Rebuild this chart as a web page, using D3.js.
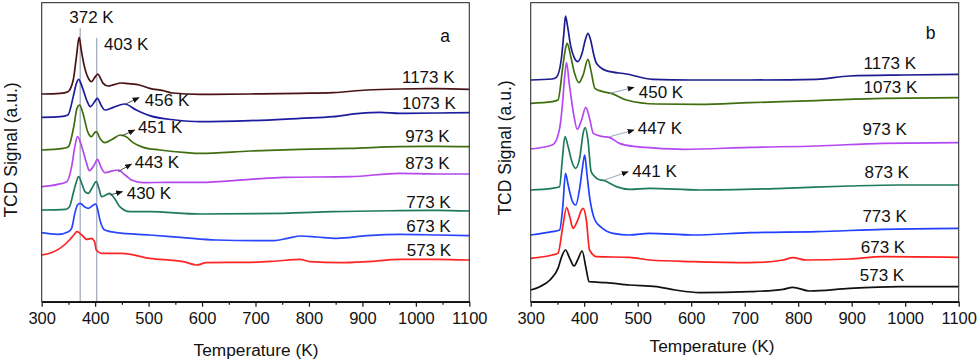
<!DOCTYPE html>
<html>
<head>
<meta charset="utf-8">
<script src="https://cdn.jsdelivr.net/npm/d3@7"></script>
<style>
  body { margin: 0; background: #fff; }
  text { font-family: "Liberation Sans", Arial, sans-serif; fill: #111; }
</style>
</head>
<body>
<script>
// TPD curves, [temperature K, signal a.u.]
var tempLabels = ["1173 K", "1073 K", "973 K", "873 K", "773 K", "673 K", "573 K"];
var xTicks = [300, 400, 500, 600, 700, 800, 900, 1000, 1100];
var xMinor = [350, 450, 550, 650, 750, 850, 950, 1050];

// panel a
var a1173 = [[300,623],[335,625],[349,630],[359,665],[365,735],[370,793],[374,755],[380,705],[388,668],[393,660],[399,672],[405,683],[410,670],[415,655],[424,647],[435,651],[448,656],[462,654],[483,650],[502,640],[527,633],[545,626],[596,622],[690,623],[783,625],[845,627],[908,635],[970,638],[1040,639],[1100,637]];
var a1073 = [[300,553],[335,555],[349,560],[359,615],[364,650],[369,667],[376,643],[384,605],[391,585],[399,600],[404,610],[412,587],[418,575],[434,583],[455,593],[477,575],[502,558],[550,545],[596,540],[690,543],[783,550],[845,555],[895,565],[933,568],[970,565],[1040,566],[1100,567]];
var a973 = [[300,455],[340,460],[350,465],[360,525],[366,580],[371,590],[378,560],[386,510],[393,495],[398,505],[402,510],[410,487],[418,477],[432,487],[447,500],[458,495],[471,477],[490,463],[521,455],[571,447],[596,445],[690,452],[783,457],[877,460],[970,465],[1040,466],[1100,465]];
var a873 = [[300,345],[330,352],[347,360],[356,405],[362,465],[367,495],[375,465],[384,415],[389,393],[400,415],[404,427],[412,400],[418,387],[434,393],[443,395],[456,380],[468,365],[490,357],[534,358],[596,358],[690,367],[752,373],[877,375],[970,385],[1040,383],[1100,383]];
var a773 = [[300,275],[345,277],[352,285],[359,325],[364,355],[369,375],[376,350],[381,330],[387,325],[394,340],[402,360],[407,340],[412,315],[420,320],[427,325],[436,310],[446,285],[465,270],[502,270],[596,263],[752,265],[845,270],[970,273],[1040,274],[1100,272]];
var a673 = [[300,207],[330,202],[350,210],[356,220],[362,265],[367,290],[372,295],[380,285],[387,280],[395,288],[401,293],[405,275],[409,245],[418,215],[440,207],[502,200],[560,193],[627,185],[700,183],[735,183],[760,190],[785,197],[815,194],[852,190],[908,198],[970,202],[1040,200],[1100,198]];
var a573 = [[300,140],[320,148],[334,160],[352,185],[360,200],[366,210],[375,200],[384,187],[393,190],[399,180],[402,155],[412,145],[450,145],[502,130],[565,120],[590,110],[608,117],[650,118],[690,118],[740,122],[783,127],[802,120],[858,117],[908,120],[970,127],[1040,127],[1100,125]];

// panel b
var b1173 = [[300,665],[340,668],[348,673],[357,725],[362,805],[365,857],[369,825],[375,765],[382,730],[388,720],[396,745],[402,785],[407,805],[412,785],[418,740],[423,715],[441,693],[479,683],[528,667],[600,665],[709,665],[834,667],[896,677],[1000,680],[1100,682]];
var b1073 = [[300,595],[340,600],[351,605],[360,705],[364,750],[368,775],[375,735],[382,685],[390,657],[398,680],[407,727],[413,690],[420,640],[435,630],[451,625],[479,605],[535,593],[616,592],[709,597],[834,603],[958,610],[1100,612]];
var b973 = [[300,458],[340,470],[348,485],[356,540],[360,605],[364,685],[367,717],[372,655],[380,565],[387,517],[395,545],[403,583],[410,550],[417,505],[432,496],[448,492],[466,475],[498,465],[522,462],[585,457],[709,463],[834,467],[958,475],[1100,477]];
var b873 = [[300,335],[340,340],[354,345],[359,425],[364,495],[370,465],[377,420],[384,400],[392,435],[398,505],[402,522],[407,485],[413,390],[420,375],[426,367],[438,363],[460,345],[485,337],[522,340],[616,335],[772,340],[896,347],[990,350],[1100,350]];
var b773 = [[300,200],[340,210],[354,215],[360,285],[365,385],[370,350],[377,305],[384,290],[392,345],[397,405],[401,440],[405,385],[410,315],[420,245],[432,223],[454,205],[485,200],[522,205],[603,200],[709,207],[834,210],[958,217],[1100,220]];
var b673 = [[300,130],[340,140],[351,145],[360,225],[367,282],[373,255],[379,220],[388,245],[395,275],[398,280],[404,245],[410,155],[423,135],[485,133],[522,125],[603,120],[709,117],[772,125],[790,132],[815,125],[896,128],[958,135],[1100,133]];
var b573 = [[300,35],[317,45],[336,65],[351,100],[358,135],[365,155],[373,130],[381,107],[389,130],[396,152],[404,95],[409,60],[441,57],[485,50],[535,45],[570,35],[616,27],[709,30],[772,37],[790,43],[821,32],[896,40],[990,45],[1100,45]];

var colorsA = ["#4a1212", "#1c1c9e", "#3f6e0e", "#b448ec", "#1d7a5c", "#2a46ff", "#ff2626"];
var colorsB = ["#1c1c8e", "#3f6e0e", "#b448f2", "#1d7a5c", "#2240ff", "#ff2020", "#111111"];

// curve label anchors [T, signal]
var labelPosA = [[974,673],[974,597],[980,497],[980,415],[982,300],[982,228],[983,155]];
var labelPosB = [[922,715],[922,643],[920,517],[924,390],[920,257],[917,165],[915,80]];

// peak arrows: [label, fromT, fromS, toT, toS, textT, textS]
var arrowsA = [["456 K",457,593,482,612,493,605],["451 K",449,497,474,515,480,524],["443 K",443,390,468,413,474,419],["430 K",427,320,451,330,459,325]];
var arrowsB = [["450 K",448,625,493,643,502,630],["447 K",448,495,493,515,500,521],["441 K",438,365,482,390,490,393]];

var refLines = [[372, 821], [403, 791]];

var width = 980, height = 362;
var plotTop = 2.67, plotBottom = 301.67;

var svg = d3.select("body").append("svg")
    .attr("width", width)
    .attr("height", height);

var defs = svg.append("defs");
defs.append("marker")
    .attr("id", "head")
    .attr("viewBox", "0 0 10 10")
    .attr("refX", 9).attr("refY", 5)
    .attr("markerWidth", 7).attr("markerHeight", 7)
    .attr("markerUnits", "userSpaceOnUse")
    .attr("orient", "auto")
  .append("path")
    .attr("d", "M0,1 L10,5 L0,9 Z")
    .attr("fill", "#111");

function drawPanel(p) {
  var x = d3.scaleLinear().domain([300, 1100]).range([p.x0, p.x1]);
  var y = d3.scaleLinear().domain([0, 897]).range([plotBottom, plotTop]);
  var g = svg.append("g");

  var line = d3.line()
      .x(function(d) { return x(d[0]); })
      .y(function(d) { return y(d[1]); })
      .curve(d3.curveMonotoneX);

  // reference lines (panel a only)
  if (p.refs) {
    g.selectAll(".ref").data(p.refs).enter().append("line")
        .attr("x1", function(d) { return x(d[0]); })
        .attr("x2", function(d) { return x(d[0]); })
        .attr("y1", function(d) { return y(d[1]); })
        .attr("y2", plotBottom)
        .attr("stroke", "#9aa6b6")
        .attr("stroke-width", 1.2);
  }

  g.selectAll(".curve").data(p.series).enter().append("path")
      .attr("d", line)
      .attr("fill", "none")
      .attr("stroke", function(d, i) { return p.colors[i]; })
      .attr("stroke-width", 1.7)
      .attr("stroke-linejoin", "round");

  g.selectAll(".lbl").data(p.labelPos).enter().append("text")
      .attr("x", function(d) { return x(d[0]); })
      .attr("y", function(d) { return y(d[1]); })
      .attr("dy", "0.36em")
      .style("font-size", "17px")
      .text(function(d, i) { return tempLabels[i]; });

  // arrows
  g.selectAll(".arr").data(p.arrows).enter().append("line")
      .attr("x1", function(d) { return x(d[1]); })
      .attr("y1", function(d) { return y(d[2]); })
      .attr("x2", function(d) { return x(d[3]); })
      .attr("y2", function(d) { return y(d[4]); })
      .attr("stroke", p.arrowColor)
      .attr("stroke-width", 0.9)
      .attr("marker-end", "url(#head)");
  g.selectAll(".arrt").data(p.arrows).enter().append("text")
      .attr("x", function(d) { return x(d[5]); })
      .attr("y", function(d) { return y(d[6]); })
      .attr("dy", "0.36em")
      .style("font-size", "17px")
      .text(function(d) { return d[0]; });

  // frame
  g.append("rect")
      .attr("x", p.x0).attr("y", plotTop)
      .attr("width", p.x1 - p.x0).attr("height", plotBottom - plotTop)
      .attr("fill", "none")
      .attr("stroke", "#333")
      .attr("stroke-width", 1.1);

  // x axis
  var ax = g.append("g")
      .attr("transform", "translate(0," + plotBottom + ")")
      .call(d3.axisBottom(x).tickValues(xTicks).tickFormat(d3.format("d"))
        .tickSize(5).tickPadding(6).tickSizeOuter(0));
  ax.select(".domain").attr("stroke", "#111").attr("stroke-width", 1.6);
  ax.selectAll(".tick line").attr("stroke", "#111").attr("stroke-width", 1.2);
  ax.selectAll("text")
      .style("font-size", "16.5px")
      .style("font-family", "'Liberation Sans', Arial, sans-serif")
      .attr("fill", "#111");
  var mn = g.append("g")
      .attr("transform", "translate(0," + plotBottom + ")")
      .call(d3.axisBottom(x).tickValues(xMinor).tickSize(3).tickFormat(""));
  mn.select(".domain").remove();
  mn.selectAll(".tick line").attr("stroke", "#111").attr("stroke-width", 1.2);

  g.append("text")
      .attr("x", p.xTitleX).attr("y", p.xTitleY)
      .attr("text-anchor", "middle")
      .attr("dy", "0.36em")
      .style("font-size", "17.3px")
      .text("Temperature (K)");

  g.append("text")
      .attr("transform", "translate(" + p.yTitleX + "," + p.yTitleY + ") rotate(-90)")
      .attr("text-anchor", "middle")
      .attr("dy", "0.36em")
      .style("font-size", "17.5px")
      .text("TCD Signal (a.u.)");

  g.append("text")
      .attr("x", p.tagX).attr("y", p.tagY)
      .attr("text-anchor", "middle")
      .attr("dy", "0.36em")
      .style("font-size", "17.5px")
      .text(p.tag);

  return {x: x, y: y, g: g};
}

var pa = drawPanel({
  x0: 41.7, x1: 469.3,
  series: [a1173, a1073, a973, a873, a773, a673, a573],
  colors: colorsA, labelPos: labelPosA, arrows: arrowsA, arrowColor: "#333",
  refs: refLines,
  xTitleX: 256, xTitleY: 350, yTitleX: 11, yTitleY: 150,
  tag: "a", tagX: 445, tagY: 36
});

// peak position labels on the reference lines
pa.g.append("text")
    .attr("x", 91.5).attr("y", 17)
    .attr("text-anchor", "middle").attr("dy", "0.36em")
    .style("font-size", "17px")
    .text("372 K");
pa.g.append("text")
    .attr("x", 104).attr("y", 44)
    .attr("dy", "0.36em")
    .style("font-size", "17px")
    .text("403 K");

drawPanel({
  x0: 530.7, x1: 958.7,
  series: [b1173, b1073, b973, b873, b773, b673, b573],
  colors: colorsB, labelPos: labelPosB, arrows: arrowsB, arrowColor: "#8a9cb4",
  xTitleX: 712, xTitleY: 345.5, yTitleX: 504.5, yTitleY: 148,
  tag: "b", tagX: 930.5, tagY: 33
});
</script>
</body>
</html>
